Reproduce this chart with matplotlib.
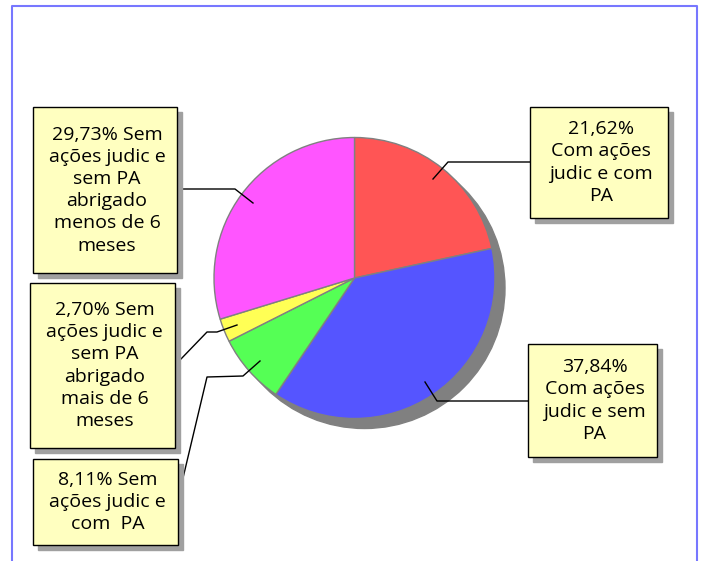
import matplotlib.pyplot as plt
from matplotlib.patches import Rectangle, Circle

# data (clockwise from 12 o'clock)
labels = ["21,62%\nCom ações\njudic e com\nPA",
          "37,84%\nCom ações\njudic e sem\nPA",
          "8,11% Sem\nações judic e\ncom  PA",
          "2,70% Sem\nações judic e\nsem PA\nabrigado\nmais de 6\nmeses",
          "29,73% Sem\nações judic e\nsem PA\nabrigado\nmenos de 6\nmeses"]
values = [21.62, 37.84, 8.11, 2.70, 29.73]
colors = ["#FF5555", "#5555FF", "#55FF55", "#FFFF55", "#FF55FF"]

# label boxes in pixel coords: left, top, right, bottom
boxes = [(530, 107, 668, 218),
         (528, 344, 657, 457),
         (33, 459, 178, 545),
         (30, 283, 175, 448),
         (33, 107, 177, 273)]
# leader lines (pixel coords)
leaders = [[(530, 162), (448, 162), (433, 179)],
           [(528, 401), (437, 401), (425, 382)],
           [(183, 478), (207, 377), (243, 376), (260, 361)],
           [(180, 360), (207, 332), (217, 332), (237, 325)],
           [(177, 189), (235, 189), (253, 203)]]

W, H = 702, 561
fig = plt.figure(figsize=(7.02, 5.61), dpi=100)
ax = fig.add_axes([0, 0, 1, 1])
ax.set_xlim(0, W)
ax.set_ylim(0, H)
ax.set_aspect('equal')
ax.axis('off')

def py(y):
    return H - y

cx, cy, r = 354.5, 278, 140.5

# frame
ax.plot([12, 12, 697, 697], [0, py(6), py(6), 0], color='#7777ff', lw=1.5)

# pie shadow
ax.add_patch(Circle((cx + 10, py(cy) - 10), r, color='#808080', zorder=1))
ax.pie(values, colors=colors, startangle=90, counterclock=False,
       center=(cx, py(cy)), radius=r, frame=True,
       wedgeprops=dict(edgecolor='#808080', linewidth=1, zorder=2))
ax.set_xlim(0, W)
ax.set_ylim(0, H)
ax.axis('off')

for pts in leaders:
    ax.plot([p[0] for p in pts], [py(p[1]) for p in pts], color='black', lw=1, zorder=3)

for (l, t, rr, b), txt in zip(boxes, labels):
    ax.add_patch(Rectangle((l + 5, py(b) - 5), rr - l, b - t, color='#A0A0A0', zorder=4))
    ax.add_patch(Rectangle((l, py(b)), rr - l, b - t, facecolor='#FFFFC0',
                           edgecolor='black', lw=1, zorder=5))
    ax.text((l + rr) / 2 + 2, py((t + b) / 2), txt, ha='center', va='center',
            fontsize=14, family='Open Sans', linespacing=1.3, zorder=6)

fig.savefig('out.png', dpi=100)
